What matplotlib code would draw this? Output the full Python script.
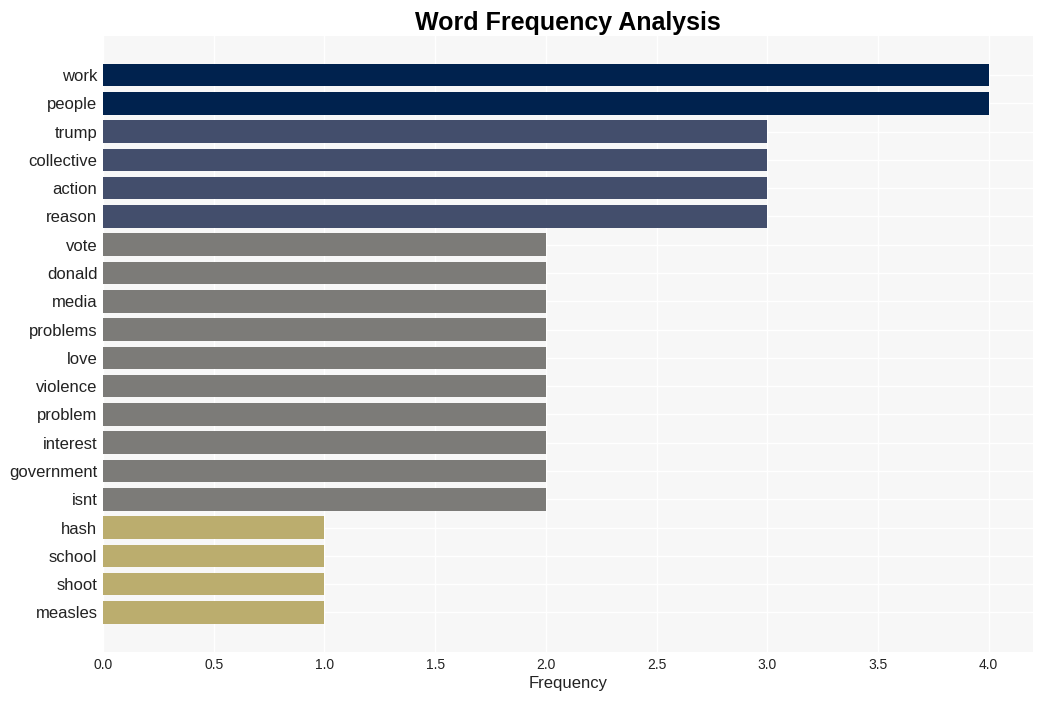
import matplotlib
matplotlib.use('Agg')
import matplotlib.pyplot as plt

# word frequency data
words = ['work', 'people', 'trump', 'collective', 'action', 'reason', 'vote',
         'donald', 'media', 'problems', 'love', 'violence', 'problem',
         'interest', 'government', 'isnt', 'hash', 'school', 'shoot', 'measles']
counts = [4, 4, 3, 3, 3, 3, 2, 2, 2, 2, 2, 2, 2, 2, 2, 2, 1, 1, 1, 1]

# colour per frequency level
level_colors = {4: '#00224e', 3: '#434e6c', 2: '#7c7b78', 1: '#bbad6e'}

plt.rcParams['font.family'] = ['Liberation Sans', 'DejaVu Sans']

fig = plt.figure(figsize=(10.42, 7.01), dpi=100)
ax = fig.add_axes([103/1042, 1-652/701, 930/1042, 616/701])
ax.set_facecolor('#f7f7f7')

ypos = list(range(len(words)))
ax.barh(ypos, counts, height=0.8, color=[level_colors[c] for c in counts], zorder=2)
ax.set_yticks(ypos)
ax.set_yticklabels(words, fontsize=12, color='#222222')
ax.set_ylim(len(words) - 1 + 1.4, -1.38)
ax.set_xlim(0, 4.2)
ax.set_xticks([0, 0.5, 1, 1.5, 2, 2.5, 3, 3.5, 4])
ax.tick_params(axis='x', labelsize=10, colors='#222222', length=0, pad=4)
ax.tick_params(axis='y', length=0, pad=4)
ax.grid(True, color='white', linewidth=1, zorder=0)
ax.set_axisbelow(True)
for s in ax.spines.values():
    s.set_visible(False)

ax.set_xlabel('Frequency', fontsize=12, color='#222222', labelpad=3)
ax.set_title('Word Frequency Analysis', fontsize=18, fontweight='bold', pad=4)

fig.savefig('out.png', dpi=100)
